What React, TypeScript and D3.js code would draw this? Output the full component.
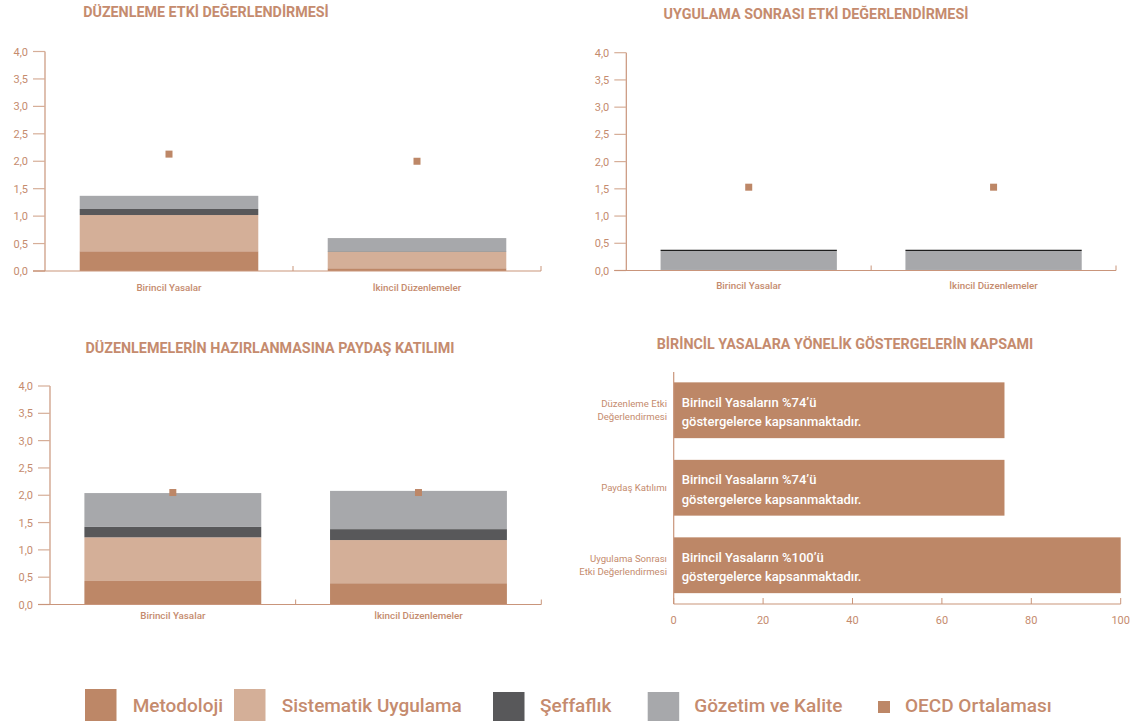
import React from "react";
import * as d3 from "d3";

// ---------- DATA ----------
const categories = ["Birincil Yasalar", "İkincil Düzenlemeler"];
const seriesKeys = ["Metodoloji", "Sistematik Uygulama", "Şeffaflık", "Gözetim ve Kalite"];
const legendLabels = ["Metodoloji", "Sistematik Uygulama", "Şeffaflık", "Gözetim ve Kalite", "OECD Ortalaması"];
const yTicks = [0, 0.5, 1, 1.5, 2, 2.5, 3, 3.5, 4];

// Panel 1: Düzenleme Etki Değerlendirmesi
const riaMetodoloji = [0.36, 0.05];
const riaSistematik = [0.66, 0.30];
const riaSeffaflik = [0.11, 0.01];
const riaGozetim = [0.24, 0.24];
const riaOecd = [2.13, 2.0];

// Panel 2: Uygulama Sonrası Etki Değerlendirmesi
const expostMetodoloji = [0.01, 0.01];
const expostSistematik = [0, 0];
const expostSeffaflik = [0, 0];
const expostGozetim = [0.35, 0.35];
const expostOecd = [1.53, 1.53];

// Panel 3: Paydaş Katılımı
const sesMetodoloji = [0.43, 0.39];
const sesSistematik = [0.80, 0.79];
const sesSeffaflik = [0.19, 0.20];
const sesGozetim = [0.62, 0.70];
const sesOecd = [2.05, 2.05];

// Panel 4: coverage
const coverageCategories = ["Düzenleme Etki Değerlendirmesi", "Paydaş Katılımı", "Uygulama Sonrası Etki Değerlendirmesi"];
const coverageLabelLines = [["Düzenleme Etki", "Değerlendirmesi"], ["Paydaş Katılımı"], ["Uygulama Sonrası", "Etki Değerlendirmesi"]];
const coverageValues = [74, 74, 100];
const coverageTexts = [
  ["Birincil Yasaların %74’ü", "göstergelerce kapsanmaktadır."],
  ["Birincil Yasaların %74’ü", "göstergelerce kapsanmaktadır."],
  ["Birincil Yasaların %100’ü", "göstergelerce kapsanmaktadır."],
];
const coverageTicks = [0, 20, 40, 60, 80, 100];

// ---------- STYLE ----------
const COLORS = ["#bd8767", "#d4af98", "#58585a", "#a7a8ab"];
const OECD_COLOR = "#bd8767";
const TEXT = "#c58b6e";
const AXIS = "#c9957b";
const TICK = "#d6ae98";
const FONT = "Roboto, 'Open Sans', sans-serif";

const fmt = (v: number) => d3.format(".1f")(v).replace(".", ",");

function buildRows(m: number[], s: number[], sf: number[], g: number[]) {
  return categories.map((c, i) => ({
    cat: c,
    [seriesKeys[0]]: m[i],
    [seriesKeys[1]]: s[i],
    [seriesKeys[2]]: sf[i],
    [seriesKeys[3]]: g[i],
  }));
}

type PanelProps = {
  title: string;
  titleX: number;
  titleY: number;
  x0: number;
  x1: number;
  yBottom: number;
  yTop: number;
  rows: any[];
  oecd: number[];
  topRule?: boolean;
  catLabelY: number;
};

function StackedPanel(p: PanelProps) {
  const x = d3.scaleBand<string>().domain(categories).range([p.x0, p.x1]).paddingInner(0.28).paddingOuter(0.14);
  const y = d3.scaleLinear().domain([0, 4]).range([p.yBottom, p.yTop]);
  const stacked = d3.stack<any>().keys(seriesKeys)(p.rows);
  const mid = (p.x0 + p.x1) / 2;
  const totals = p.rows.map((r) => seriesKeys.reduce((a, k) => a + r[k], 0));
  return (
    <g>
      <text x={p.titleX} y={p.titleY} textAnchor="middle" fill={TEXT} fontSize={14.3} fontWeight={700} fontFamily={FONT}>
        {p.title}
      </text>
      {stacked.map((layer, li) => (
        <g key={layer.key} fill={COLORS[li]}>
          {layer.map((d, i) => (
            <rect key={i} x={x(categories[i])!} width={x.bandwidth()} y={y(d[1])} height={Math.max(0, y(d[0]) - y(d[1]))} />
          ))}
        </g>
      ))}
      {p.topRule &&
        totals.map((t, i) => (
          <line key={i} x1={x(categories[i])!} x2={x(categories[i])! + x.bandwidth()} y1={y(t) - 0.5} y2={y(t) - 0.5} stroke="#1e1e1e" strokeWidth={1.4} />
        ))}
      {p.oecd.map((v, i) => (
        <rect key={i} x={x(categories[i])! + x.bandwidth() / 2 - 3.5} y={y(v) - 3.5} width={7} height={7} fill={OECD_COLOR} />
      ))}
      {/* y axis */}
      <line x1={p.x0} x2={p.x0} y1={y(4)} y2={y(0)} stroke={AXIS} strokeWidth={1.2} />
      {yTicks.map((t) => (
        <g key={t}>
          <line x1={p.x0 - 12} x2={p.x0} y1={y(t)} y2={y(t)} stroke={t === 0 ? AXIS : TICK} strokeWidth={1.2} />
          <text x={p.x0 - 17} y={y(t) + 4} textAnchor="end" fill={TEXT} fontSize={11} fontFamily={FONT}>
            {fmt(t)}
          </text>
        </g>
      ))}
      {/* x axis */}
      <line x1={p.x0 - 12} x2={p.x1} y1={y(0)} y2={y(0)} stroke={AXIS} strokeWidth={1.2} />
      <line x1={mid} x2={mid} y1={y(0)} y2={y(0) - 5} stroke={AXIS} strokeWidth={1} />
      <line x1={p.x1} x2={p.x1} y1={y(0)} y2={y(0) - 5} stroke={AXIS} strokeWidth={1} />
      {categories.map((c) => (
        <text key={c} x={x(c)! + x.bandwidth() / 2} y={p.catLabelY} textAnchor="middle" fill={TEXT} fontSize={9.8} fontWeight={500} fontFamily={FONT}>
          {c}
        </text>
      ))}
    </g>
  );
}

function CoveragePanel() {
  const x = d3.scaleLinear().domain([0, 100]).range([673.7, 1120.7]);
  const y = d3.scaleBand<string>().domain(coverageCategories).range([371.5, 604]).paddingInner(0.28).paddingOuter(0.14);
  const axisY = 604;
  return (
    <g>
      <text x={845} y={349} textAnchor="middle" fill={TEXT} fontSize={14.3} fontWeight={700} fontFamily={FONT}>
        BİRİNCİL YASALARA YÖNELİK GÖSTERGELERİN KAPSAMI
      </text>
      {coverageCategories.map((c, i) => {
        const by = y(c)!;
        const cy = by + y.bandwidth() / 2;
        const lines = coverageLabelLines[i];
        return (
          <g key={c}>
            <rect x={x(0)} y={by} width={x(coverageValues[i]) - x(0)} height={y.bandwidth()} fill={COLORS[0]} />
            {coverageTexts[i].map((t, j) => (
              <text key={j} x={x(0) + 8} y={cy - 8 + j * 19.5 + 4.5} fill="#ffffff" fontSize={13} fontWeight={500} fontFamily={FONT}>
                {t}
              </text>
            ))}
            {lines.map((l, j) => (
              <text key={j} x={667} y={cy + (j - (lines.length - 1) / 2) * 13.2 + 3.5} textAnchor="end" fill={TEXT} fontSize={9.6} fontFamily={FONT}>
                {l}
              </text>
            ))}
          </g>
        );
      })}
      <line x1={x(0)} x2={x(0)} y1={372} y2={axisY} stroke={AXIS} strokeWidth={1.2} />
      <line x1={x(0)} x2={x(100)} y1={axisY} y2={axisY} stroke={AXIS} strokeWidth={1.2} />
      {coverageTicks.map((t) => (
        <g key={t}>
          <line x1={x(t)} x2={x(t)} y1={axisY} y2={axisY - 6} stroke={AXIS} strokeWidth={1} />
          <text x={x(t)} y={624} textAnchor="middle" fill={TEXT} fontSize={11} fontFamily={FONT}>
            {t}
          </text>
        </g>
      ))}
    </g>
  );
}

function Legend() {
  const items = [
    { sx: 85, tx: 132.7, color: COLORS[0], sy: 689 },
    { sx: 234, tx: 281.7, color: COLORS[1], sy: 689 },
    { sx: 493, tx: 540, color: COLORS[2], sy: 692 },
    { sx: 647.7, tx: 694.3, color: COLORS[3], sy: 692 },
  ];
  return (
    <g>
      {items.map((it, i) => (
        <g key={i}>
          <rect x={it.sx} y={it.sy} width={31.5} height={34} fill={it.color} />
          <text x={it.tx} y={712} fill={TEXT} fontSize={19} fontWeight={500} fontFamily={FONT}>
            {legendLabels[i]}
          </text>
        </g>
      ))}
      <rect x={878} y={701} width={12} height={12} fill={OECD_COLOR} />
      <text x={905} y={712} fill={TEXT} fontSize={19} fontWeight={500} fontFamily={FONT}>
        {legendLabels[4]}
      </text>
    </g>
  );
}

export default function App() {
  return (
    <svg width={1138} height={721} style={{ position: "absolute", left: 0, top: 0, background: "#fff" }}>
      <StackedPanel
        title="DÜZENLEME ETKİ DEĞERLENDİRMESİ"
        titleX={206}
        titleY={17}
        x0={45}
        x1={541}
        yBottom={271}
        yTop={51.5}
        rows={buildRows(riaMetodoloji, riaSistematik, riaSeffaflik, riaGozetim)}
        oecd={riaOecd}
        catLabelY={291}
      />
      <StackedPanel
        title="UYGULAMA SONRASI ETKİ DEĞERLENDİRMESİ"
        titleX={816}
        titleY={19}
        x0={626.3}
        x1={1116}
        yBottom={270.5}
        yTop={52.7}
        rows={buildRows(expostMetodoloji, expostSistematik, expostSeffaflik, expostGozetim)}
        oecd={expostOecd}
        topRule
        catLabelY={289}
      />
      <StackedPanel
        title="DÜZENLEMELERİN HAZIRLANMASINA PAYDAŞ KATILIMI"
        titleX={270}
        titleY={353}
        x0={50}
        x1={541.3}
        yBottom={604.5}
        yTop={386}
        rows={buildRows(sesMetodoloji, sesSistematik, sesSeffaflik, sesGozetim)}
        oecd={sesOecd}
        catLabelY={619}
      />
      <CoveragePanel />
      <Legend />
    </svg>
  );
}
